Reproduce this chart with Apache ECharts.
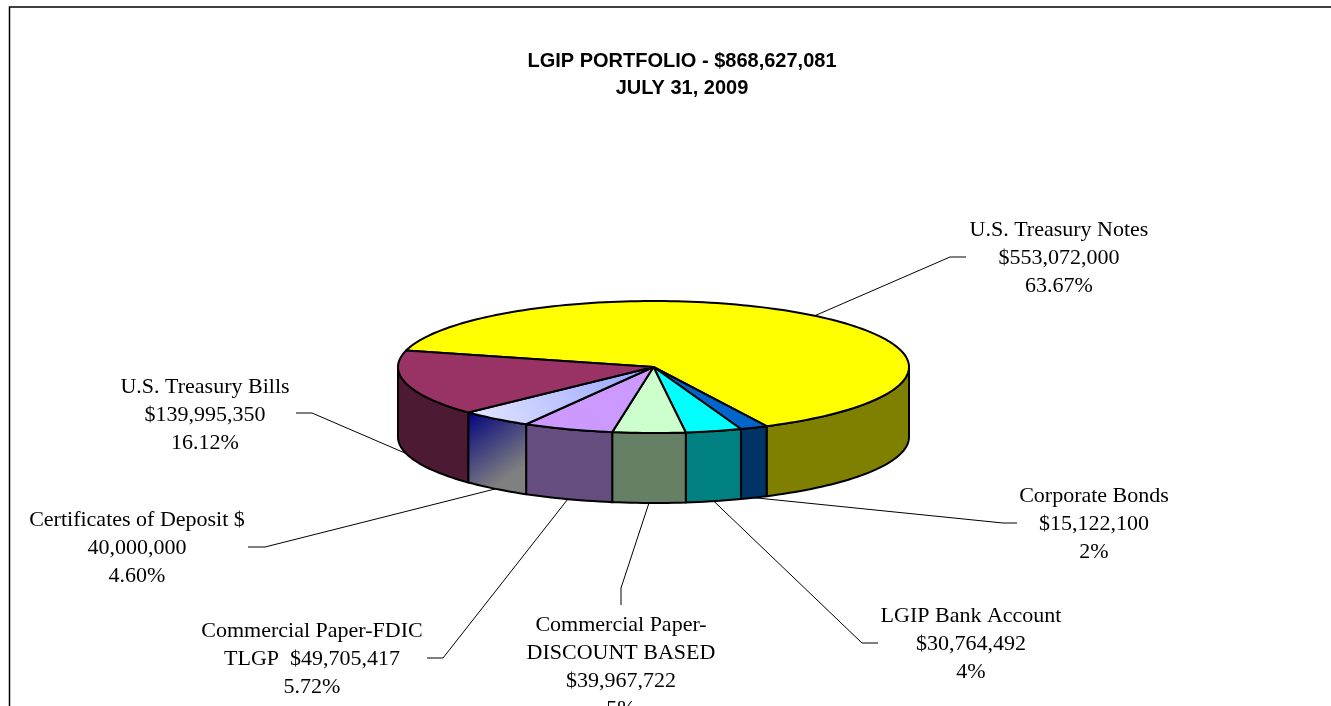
<!DOCTYPE html>
<html>
<head>
<meta charset="utf-8">
<title>LGIP Portfolio</title>
<script src="https://cdn.jsdelivr.net/npm/echarts@6/dist/echarts.min.js"></script>
<style>
  html, body { margin: 0; padding: 0; background: #fff; overflow: hidden; }
  #chart { width: 1331px; height: 706px; }
</style>
</head>
<body>
<div id="chart"></div>
<script>
const chartTitle = "LGIP PORTFOLIO - $868,627,081\nJULY 31, 2009";

// Dados, na ordem do gráfico original
const categories = [
  "U.S. Treasury Notes",
  "Corporate Bonds",
  "LGIP Bank Account",
  "Commercial Paper-\nDISCOUNT BASED",
  "Commercial Paper-FDIC\nTLGP  $49,705,417",
  "Certificates of Deposit $\n40,000,000",
  "U.S. Treasury Bills",
];
const values = [553072000, 15122100, 30764492, 39967722, 49705417, 40000000, 139995350];
const amountLabels = ["$553,072,000", "$15,122,100", "$30,764,492", "$39,967,722", "", "", "$139,995,350"];
const percentLabels = ["63.67%", "2%", "4%", "5%", "5.72%", "4.60%", "16.12%"];

const topColors = ["#FFFF00", "#0066CC", "#00FFFF", "#CCFFCC", "#CC99FF", null, "#993366"];
const sideColors = ["#808000", "#003366", "#008080", "#668066", "#664D80", null, "#4D1A33"];

// Geometria da pizza
const cx = 653.5;
const cy = 367;
const rx = 255.5;
const ry = 66;
const depth = 70;
const startAngle = 194.5;

// Onde ficam os rótulos: centro do texto e cotovelo da linha
const labelCenters = [[1059, 258], [1094, 524], [971, 644], [621, 667], [312, 659], [137, 548], [205, 415]];
const lineElbows = [[950, 257], [1003, 523], [862, 643], [621, 588], [443, 658], [265, 547], [312, 413]];
const lineEnds = [[966, 257], [1017, 523], [878, 643], [621, 605], [427, 658], [248, 547], [296, 413]];

const total = values.reduce((a, b) => a + b, 0);
const spans = [];
let acc = startAngle;
values.forEach((v) => {
  const sweep = (v / total) * 360;
  spans.push([acc, acc + sweep]);
  acc += sweep;
});

function pointAt(deg, offset) {
  const t = (deg * Math.PI) / 180;
  return [cx + rx * Math.cos(t), cy + ry * Math.sin(t) + offset];
}

function arcPoints(from, to, offset) {
  const pts = [];
  const steps = Math.max(2, Math.ceil(Math.abs(to - from) / 1.5));
  for (let k = 0; k <= steps; k++) {
    pts.push(pointAt(from + ((to - from) * k) / steps, offset));
  }
  return pts;
}

// Só a parte da frente da parede aparece (0 a 180 graus na tela)
function frontPart(span) {
  for (const shift of [0, 360]) {
    const a = Math.max(span[0], shift);
    const b = Math.min(span[1], shift + 180);
    if (b > a) return [a, b];
  }
  return null;
}

const cdTopFill = new echarts.graphic.LinearGradient(0.85, 0, 0.1, 1, [
  { offset: 0, color: "#A0A9FF" },
  { offset: 1, color: "#DDE2FF" },
]);
const cdSideFill = new echarts.graphic.LinearGradient(0, 0, 0.75, 0.75, [
  { offset: 0, color: "#000080" },
  { offset: 1, color: "#808080" },
]);

function renderSlice(params) {
  const i = params.dataIndex;
  const span = spans[i];
  const children = [];
  const edge = { stroke: "#000", lineWidth: 2, lineJoin: "round" };

  const front = frontPart(span);
  if (front) {
    children.push({
      type: "polygon",
      shape: { points: arcPoints(front[0], front[1], 0).concat(arcPoints(front[1], front[0], depth)) },
      style: Object.assign({ fill: sideColors[i] || cdSideFill }, edge),
    });
  }
  children.push({
    type: "polygon",
    shape: { points: [[cx, cy]].concat(arcPoints(span[0], span[1], 0)) },
    style: Object.assign({ fill: topColors[i] || cdTopFill }, edge),
  });
  return { type: "group", children: children };
}

function renderLabel(params) {
  const i = params.dataIndex;
  const mid = ((spans[i][0] + spans[i][1]) / 2) % 360;
  const start = pointAt(mid, mid < 180 ? depth : 0);
  const lines = [categories[i]];
  if (amountLabels[i]) lines.push(amountLabels[i]);
  lines.push(percentLabels[i]);
  return {
    type: "group",
    children: [
      {
        type: "polyline",
        shape: { points: [start, lineElbows[i], lineEnds[i]] },
        style: { stroke: "#000", lineWidth: 1, fill: null },
      },
      {
        type: "text",
        style: {
          text: lines.join("\n"),
          x: labelCenters[i][0],
          y: labelCenters[i][1],
          align: "center",
          verticalAlign: "middle",
          lineHeight: 28,
          fontFamily: "Liberation Serif",
          fontSize: 22,
          fill: "#000",
        },
      },
    ],
  };
}

const myChart = echarts.init(document.getElementById("chart"));

myChart.setOption({
  animation: false,
  backgroundColor: "#fff",
  title: {
    text: chartTitle,
    left: 677,
    top: 43,
    textAlign: "center",
    textStyle: {
      fontFamily: "Liberation Sans",
      fontWeight: "bold",
      fontSize: 20,
      lineHeight: 27,
      color: "#000",
    },
  },
  graphic: [
    {
      type: "polyline",
      silent: true,
      shape: { points: [[9.5, 706], [9.5, 7], [1331, 7]] },
      style: { stroke: "#000", lineWidth: 1.5, fill: null },
    },
  ],
  series: [
    {
      type: "custom",
      coordinateSystem: "none",
      data: values,
      renderItem: renderLabel,
      z: 1,
    },
    {
      type: "custom",
      coordinateSystem: "none",
      data: values,
      renderItem: renderSlice,
      z: 2,
    },
  ],
});

window.addEventListener("resize", () => myChart.resize());
</script>
</body>
</html>
